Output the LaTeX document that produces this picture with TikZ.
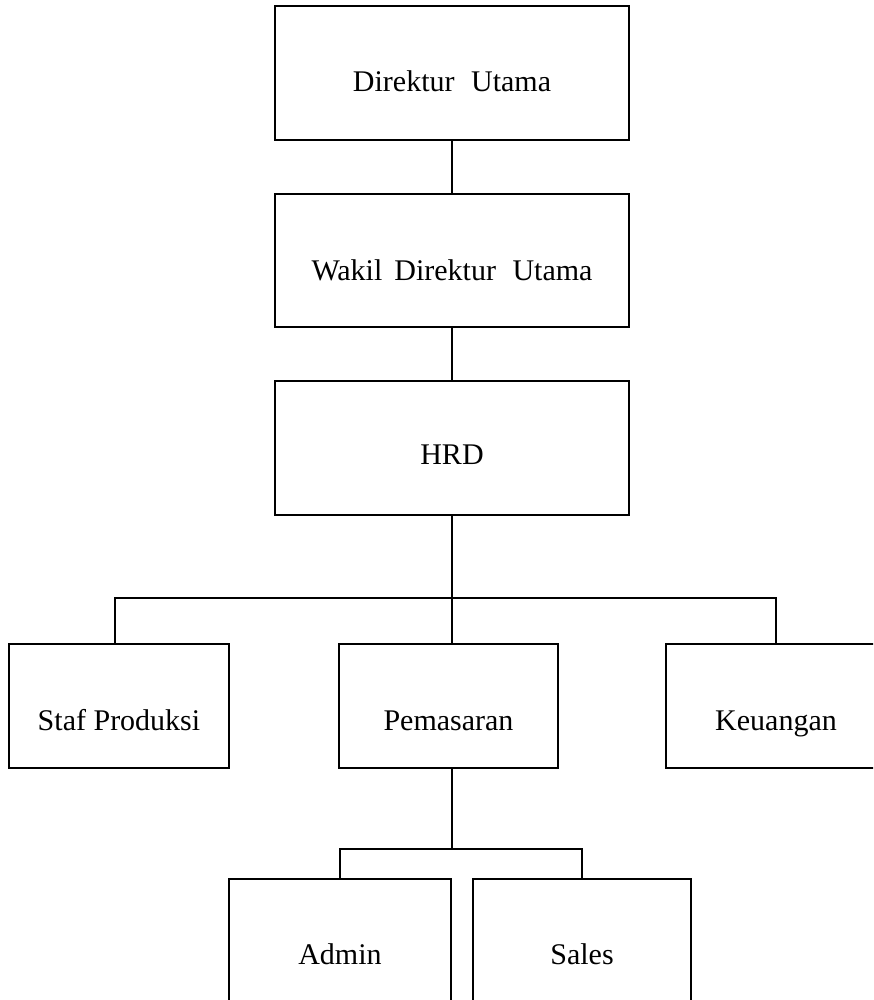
\documentclass[tikz,border=0pt]{standalone}
\usepackage{fontspec}
\setmainfont{Liberation Serif}
\begin{document}
\begin{tikzpicture}[x=1pt,y=-1pt,
  box/.style={draw, line width=1.3pt, rectangle, inner sep=0pt,
    font=\fontsize{30}{36}\selectfont, text depth=0pt},
  ln/.style={line width=1.3pt}]
\useasboundingbox (0,0) rectangle (873,1000);
\clip (0,0) rectangle (873,1000);
\node[box, minimum width=354pt, minimum height=134pt, text height=38pt] (dir) at (452,73) {Direktur\hspace{0.55em}Utama};
\node[box, minimum width=354pt, minimum height=133pt, text height=39pt] (wak) at (452,260.5) {Wakil\hspace{0.4em}Direktur\hspace{0.55em}Utama};
\node[box, minimum width=354pt, minimum height=134pt, text height=32pt] (hrd) at (452,448) {HRD};
\node[box, minimum width=220pt, minimum height=124pt, text height=48pt] (staf) at (119,706) {Staf Produksi};
\node[box, minimum width=219pt, minimum height=124pt, text height=48pt] (pem) at (448.5,706) {Pemasaran};
\node[box, minimum width=220pt, minimum height=124pt, text height=48pt] (keu) at (776,706) {Keuangan};
\node[box, minimum width=222pt, minimum height=124pt, text height=46pt] (adm) at (340,941) {Admin};
\node[box, minimum width=218pt, minimum height=124pt, text height=46pt] (sal) at (582,941) {Sales};
\coordinate (busY) at (0,598);
\coordinate (subY) at (0,849);
\coordinate (bus) at (hrd.south |- busY);
\coordinate (sub) at (hrd.south |- subY);
\draw[ln] (dir.south) -- (wak.north);
\draw[ln] (wak.south) -- (hrd.north);
\draw[ln] (hrd.south) -- (bus);
\draw[ln] ([xshift=-4pt]staf.north) |- (bus) -| (keu.north);
\draw[ln] (bus) -- (bus |- pem.north);
\draw[ln] (sub |- pem.south) -- (sub);
\draw[ln] (adm.north) |- (sub) -| (sal.north);
\end{tikzpicture}
\end{document}
